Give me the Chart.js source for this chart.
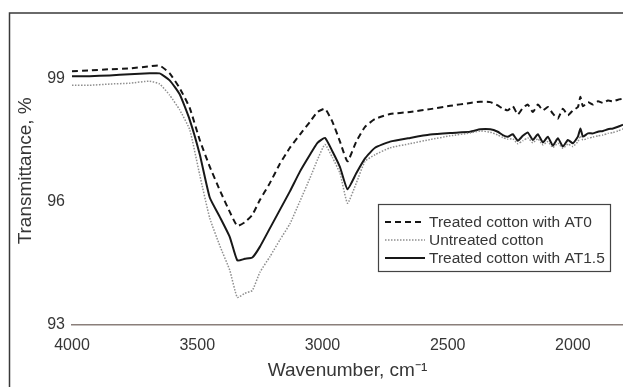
<!DOCTYPE html>
<html>
<head>
<meta charset="utf-8">
<script src="https://cdn.jsdelivr.net/npm/chart.js@4/dist/chart.umd.min.js"></script>
<style>
  html, body { margin: 0; padding: 0; background: #fff; }
  #wrap { width: 623px; height: 387px; }
</style>
</head>
<body>
<div id="wrap"><canvas id="c" width="623" height="387"></canvas></div>
<script>
// FTIR spectra of cotton samples (wavenumber in cm-1, transmittance in %)
const wavenumbers = [
  4000, 3930, 3850, 3770, 3690, 3650, 3610, 3570, 3530, 3490, 3450, 3410,
  3370, 3340, 3310, 3280, 3250, 3210, 3170, 3130, 3090, 3050, 3020, 2990,
  2960, 2930, 2900, 2865, 2830, 2790, 2730, 2650, 2570, 2490, 2410, 2370,
  2330, 2300, 2280, 2260, 2240, 2220, 2200, 2180, 2160, 2140, 2120, 2100,
  2080, 2060, 2040, 2020, 2000, 1980, 1970, 1960, 1940, 1920, 1900, 1880,
  1860, 1840, 1820, 1800
];
const treatedAT0 = [
  99.17, 99.19, 99.22, 99.24, 99.29, 99.31, 99.12, 98.76, 98.28, 97.50, 96.85, 96.28,
  95.75, 95.41, 95.50, 95.68, 96.04, 96.45, 96.92, 97.31, 97.63, 97.94, 98.18, 98.26,
  97.94, 97.46, 96.98, 97.46, 97.82, 98.01, 98.13, 98.18, 98.25, 98.33, 98.40, 98.43,
  98.42, 98.34, 98.26, 98.22, 98.32, 98.12, 98.28, 98.36, 98.18, 98.36, 98.22, 98.30,
  98.14, 98.02, 98.26, 98.10, 98.22, 98.30, 98.55, 98.32, 98.42, 98.36, 98.44, 98.40,
  98.46, 98.44, 98.48, 98.50
];
const untreated = [
  98.83, 98.83, 98.86, 98.88, 98.93, 98.86, 98.59, 98.23, 97.75, 96.65, 95.60, 94.93,
  94.33, 93.67, 93.77, 93.84, 94.28, 94.66, 95.07, 95.46, 96.01, 96.57, 97.02, 97.39,
  97.07, 96.69, 95.96, 96.45, 96.98, 97.14, 97.31, 97.41, 97.51, 97.60, 97.67, 97.72,
  97.69, 97.62, 97.56, 97.52, 97.53, 97.41, 97.48, 97.55, 97.43, 97.53, 97.38, 97.46,
  97.32, 97.42, 97.30, 97.40, 97.34, 97.46, 97.60, 97.50, 97.54, 97.57, 97.60, 97.62,
  97.66, 97.68, 97.72, 97.77
];
const treatedAT15 = [
  99.05, 99.05, 99.07, 99.10, 99.12, 99.12, 98.95, 98.61, 97.99, 97.15, 96.10, 95.63,
  95.14, 94.57, 94.61, 94.64, 94.90, 95.35, 95.80, 96.25, 96.73, 97.14, 97.43, 97.55,
  97.22, 96.84, 96.30, 96.69, 97.05, 97.31, 97.46, 97.55, 97.63, 97.67, 97.70, 97.76,
  97.76, 97.70, 97.62, 97.58, 97.64, 97.48, 97.60, 97.68, 97.50, 97.64, 97.44, 97.58,
  97.36, 97.54, 97.34, 97.50, 97.42, 97.58, 97.78, 97.58, 97.66, 97.66, 97.70, 97.72,
  97.76, 97.78, 97.82, 97.87
];
const seriesLabels = ['Treated cotton with AT0', 'Untreated cotton', 'Treated cotton with AT1.5'];
const xTickValues = [4000, 3500, 3000, 2500, 2000];
const yTickValues = [93, 96, 99];

const FONT = '"Liberation Sans", Arial, sans-serif';
const TEXT = '#363636';

const toPoints = ys => wavenumbers.map((x, i) => ({ x, y: ys[i] }));

// Outer figure frame (top and left edges)
const framePlugin = {
  id: 'frame',
  beforeDraw(chart) {
    const ctx = chart.ctx;
    ctx.save();
    ctx.fillStyle = '#ffffff';
    ctx.fillRect(0, 0, chart.width, chart.height);
    ctx.strokeStyle = '#3a3a3a';
    ctx.lineWidth = 1.5;
    ctx.beginPath();
    ctx.moveTo(9.5, chart.height);
    ctx.lineTo(9.5, 13);
    ctx.lineTo(chart.width, 13);
    ctx.stroke();
    ctx.restore();
  }
};

// Boxed legend inside the plot, using each dataset's own line style
const boxLegendPlugin = {
  id: 'boxLegend',
  afterDatasetsDraw(chart) {
    const ctx = chart.ctx;
    const bx = 378.5, by = 204.5, bw = 232, bh = 67;
    ctx.save();
    ctx.fillStyle = '#ffffff';
    ctx.fillRect(bx, by, bw, bh);
    ctx.strokeStyle = '#444444';
    ctx.lineWidth = 1.2;
    ctx.strokeRect(bx, by, bw, bh);
    ctx.font = '15.5px ' + FONT;
    ctx.textBaseline = 'middle';
    ctx.textAlign = 'left';
    chart.data.datasets.forEach((ds, i) => {
      const y = 222 + i * 18;
      ctx.strokeStyle = ds.borderColor;
      ctx.lineWidth = ds.borderWidth;
      ctx.setLineDash(ds.borderDash || []);
      ctx.beginPath();
      ctx.moveTo(385, y);
      ctx.lineTo(425, y);
      ctx.stroke();
      ctx.setLineDash([]);
      ctx.fillStyle = TEXT;
      ctx.fillText(ds.label, 429, y + 1);
    });
    ctx.restore();
  }
};

new Chart(document.getElementById('c'), {
  type: 'line',
  data: {
    datasets: [
      {
        label: seriesLabels[0],
        data: toPoints(treatedAT0),
        borderColor: '#151515',
        borderWidth: 2,
        borderDash: [6, 4]
      },
      {
        label: seriesLabels[1],
        data: toPoints(untreated),
        borderColor: '#8f8f8f',
        borderWidth: 1.5,
        borderDash: [1.5, 1.5]
      },
      {
        label: seriesLabels[2],
        data: toPoints(treatedAT15),
        borderColor: '#181818',
        borderWidth: 2
      }
    ]
  },
  options: {
    responsive: false,
    devicePixelRatio: 1,
    animation: false,
    layout: { padding: { left: 10, top: 14, right: 0, bottom: 0 } },
    elements: {
      point: { radius: 0 },
      line: { tension: 0.15, fill: false }
    },
    plugins: {
      legend: { display: false },
      tooltip: { enabled: false }
    },
    scales: {
      x: {
        type: 'linear',
        reverse: true,
        min: 1800,
        max: 4000,
        afterBuildTicks: s => { s.ticks = xTickValues.map(v => ({ value: v })); },
        afterFit: s => { s.height = 62; },
        grid: { display: false, drawTicks: false },
        border: { display: true, color: '#8a7f7a', width: 1.5 },
        ticks: {
          autoSkip: false,
          maxRotation: 0,
          padding: 11,
          color: TEXT,
          font: { family: FONT, size: 16 },
          callback: v => String(v)
        },
        title: {
          display: true,
          text: 'Wavenumber, cm\u207B\u00B9',
          color: TEXT,
          font: { family: FONT, size: 19 },
          padding: { top: 0, bottom: 5 }
        }
      },
      y: {
        min: 93,
        max: 100.5,
        afterBuildTicks: s => { s.ticks = yTickValues.map(v => ({ value: v })); },
        afterFit: s => { s.width = 62; },
        grid: { display: false, drawTicks: false },
        border: { display: false },
        ticks: {
          padding: 7,
          color: TEXT,
          font: { family: FONT, size: 16 },
          callback: v => String(v)
        },
        title: {
          display: true,
          text: 'Transmittance, %',
          color: TEXT,
          font: { family: FONT, size: 19 },
          padding: { top: 4, bottom: 0 }
        }
      }
    }
  },
  plugins: [framePlugin, boxLegendPlugin]
});
</script>
</body>
</html>
